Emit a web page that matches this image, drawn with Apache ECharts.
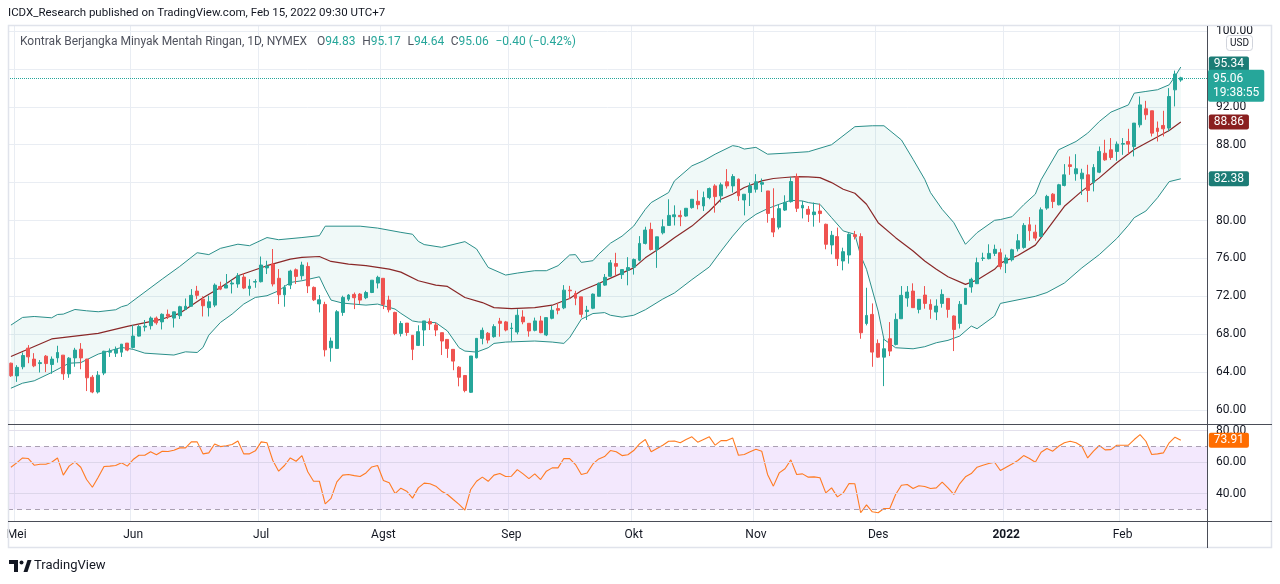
<!DOCTYPE html>
<html>
<head>
<meta charset="utf-8">
<title>Kontrak Berjangka Minyak Mentah Ringan</title>
<script src="https://cdn.jsdelivr.net/npm/echarts@6.0.0/dist/echarts.min.js"></script>
<style>
  html, body { margin: 0; padding: 0; background: #fff; }
  #chart { width: 1280px; height: 584px; }
</style>
</head>
<body>
<div id="chart"></div>
<script>
// trading days shown on the chart
var dates = [
  '2021-04-30',
  '2021-05-03','2021-05-04','2021-05-05','2021-05-06','2021-05-07','2021-05-10','2021-05-11','2021-05-12','2021-05-13','2021-05-14',
  '2021-05-17','2021-05-18','2021-05-19','2021-05-20','2021-05-21','2021-05-24','2021-05-25','2021-05-26','2021-05-27','2021-05-28',
  '2021-06-01','2021-06-02','2021-06-03','2021-06-04','2021-06-07','2021-06-08','2021-06-09','2021-06-10','2021-06-11','2021-06-14',
  '2021-06-15','2021-06-16','2021-06-17','2021-06-18','2021-06-21','2021-06-22','2021-06-23','2021-06-24','2021-06-25','2021-06-28',
  '2021-06-29','2021-06-30',
  '2021-07-01','2021-07-02','2021-07-06','2021-07-07','2021-07-08','2021-07-09','2021-07-12','2021-07-13','2021-07-14','2021-07-15',
  '2021-07-16','2021-07-19','2021-07-20','2021-07-21','2021-07-22','2021-07-23','2021-07-26','2021-07-27','2021-07-28','2021-07-29',
  '2021-07-30',
  '2021-08-02','2021-08-03','2021-08-04','2021-08-05','2021-08-06','2021-08-09','2021-08-10','2021-08-11','2021-08-12','2021-08-13',
  '2021-08-16','2021-08-17','2021-08-18','2021-08-19','2021-08-20','2021-08-23','2021-08-24','2021-08-25','2021-08-26','2021-08-27',
  '2021-08-30','2021-08-31',
  '2021-09-01','2021-09-02','2021-09-03','2021-09-07','2021-09-08','2021-09-09','2021-09-10','2021-09-13','2021-09-14','2021-09-15',
  '2021-09-16','2021-09-17','2021-09-20','2021-09-21','2021-09-22','2021-09-23','2021-09-24','2021-09-27','2021-09-28','2021-09-29',
  '2021-09-30',
  '2021-10-01','2021-10-04','2021-10-05','2021-10-06','2021-10-07','2021-10-08','2021-10-11','2021-10-12','2021-10-13','2021-10-14',
  '2021-10-15','2021-10-18','2021-10-19','2021-10-20','2021-10-21','2021-10-22','2021-10-25','2021-10-26','2021-10-27','2021-10-28',
  '2021-10-29',
  '2021-11-01','2021-11-02','2021-11-03','2021-11-04','2021-11-05','2021-11-08','2021-11-09','2021-11-10','2021-11-11','2021-11-12',
  '2021-11-15','2021-11-16','2021-11-17','2021-11-18','2021-11-19','2021-11-22','2021-11-23','2021-11-24','2021-11-26','2021-11-29',
  '2021-11-30',
  '2021-12-01','2021-12-02','2021-12-03','2021-12-06','2021-12-07','2021-12-08','2021-12-09','2021-12-10','2021-12-13','2021-12-14',
  '2021-12-15','2021-12-16','2021-12-17','2021-12-20','2021-12-21','2021-12-22','2021-12-23','2021-12-27','2021-12-28','2021-12-29',
  '2021-12-30','2021-12-31',
  '2022-01-03','2022-01-04','2022-01-05','2022-01-06','2022-01-07','2022-01-10','2022-01-11','2022-01-12','2022-01-13','2022-01-14',
  '2022-01-18','2022-01-19','2022-01-20','2022-01-21','2022-01-24','2022-01-25','2022-01-26','2022-01-27','2022-01-28','2022-01-31',
  '2022-02-01','2022-02-02','2022-02-03','2022-02-04','2022-02-07','2022-02-08','2022-02-09','2022-02-10','2022-02-11','2022-02-14',
  '2022-02-15'
];
// empty days to the right of the last bar
var padDays = ['2022-02-16','2022-02-17','2022-02-18','2022-02-22'];

var monthStarts = ['2021-05-03','2021-06-01','2021-07-01','2021-08-02','2021-09-01','2021-10-01','2021-11-01','2021-12-01','2022-01-03','2022-02-01'];
var monthNames = ['Mei','Jun','Jul','Agst','Sep','Okt','Nov','Des','2022','Feb'];

var openP = [
  64.94,63.6,64.56,66.53,65.37,64.9,65.68,64.8,65.5,65.79,
  63.82,65.5,66.42,65.37,63.46,61.9,63.9,66.1,66.0,66.1,
  67.06,66.6,67.8,68.75,68.9,69.7,69.3,70.1,69.7,69.95,
  70.6,70.95,72.55,71.7,70.8,71.07,73.04,72.87,73.3,73.3,
  74.03,72.83,73.5,73.54,75.0,75.4,73.9,72.16,73.18,74.8,
  74.17,75.15,72.94,71.2,71.14,66.56,66.5,70.3,71.7,72.2,
  72.23,71.85,72.4,73.4,73.9,71.6,70.3,68.08,69.17,67.88,
  66.82,68.44,69.33,68.98,68.16,67.45,66.4,64.52,63.64,61.87,
  65.51,67.56,68.1,67.74,69.37,69.3,68.6,68.23,69.82,69.15,
  68.41,69.4,67.92,69.68,70.7,70.78,72.65,72.3,71.94,70.4,
  70.74,72.0,73.18,74.11,75.46,74.29,74.75,75.07,75.81,77.58,
  79.06,76.94,78.7,79.48,80.4,80.54,80.47,81.36,82.03,81.53,
  82.42,83.65,82.6,84.08,83.65,84.36,82.17,82.95,83.3,83.83,
  83.12,80.22,79.3,81.1,81.99,84.64,81.32,81.18,80.62,81.0,
  79.6,77.42,78.3,75.73,76.36,78.5,78.3,69.13,70.09,67.03,
  65.58,67.52,66.92,69.63,71.82,72.55,70.62,72.13,71.15,70.34,
  71.25,71.78,69.92,69.14,71.15,72.98,73.33,76.0,75.97,76.53,
  76.6,75.5,75.86,77.02,77.16,79.55,78.77,78.32,81.31,82.78,
  81.66,83.7,85.88,84.93,84.4,84.82,84.0,85.1,87.1,87.46,
  87.29,88.06,88.34,87.8,90.1,91.79,91.58,89.75,90.03,89.75,
  93.79,94.83
];
var highP = [
  65.0,64.73,66.07,66.85,66.0,65.27,65.8,65.65,66.78,65.8,
  65.58,66.56,67.06,65.4,63.68,64.1,66.25,66.5,66.7,66.95,
  67.06,68.96,68.96,69.5,69.87,69.87,70.2,70.6,70.36,71.0,
  71.77,72.76,73.1,72.0,72.06,73.36,73.54,74.35,73.8,74.45,
  74.45,73.8,73.8,76.2,75.75,76.99,74.87,73.18,74.8,74.94,
  75.65,75.58,73.04,72.13,71.42,67.65,70.54,72.06,72.23,72.4,
  72.34,72.58,73.7,74.17,73.9,72.06,70.37,69.38,69.17,67.9,
  68.94,69.4,69.68,69.22,68.16,67.45,66.4,64.63,63.64,65.7,
  67.56,68.7,68.23,69.05,69.72,69.4,69.2,70.64,70.53,69.15,
  69.75,69.93,69.75,70.99,71.27,73.18,73.1,72.58,71.94,70.99,
  72.3,73.46,74.35,75.83,76.59,74.82,76.13,75.99,78.35,79.34,
  79.77,78.28,80.12,82.24,81.6,81.07,81.29,82.24,83.2,83.05,
  83.48,83.83,84.0,85.42,84.89,84.43,82.77,84.0,84.89,84.43,
  83.12,83.4,81.7,82.66,84.6,84.96,82.06,81.53,81.89,81.78,
  79.67,78.9,79.25,77.13,78.65,78.9,78.65,72.9,71.25,67.45,
  67.52,69.28,70.2,73.08,73.08,73.37,71.68,73.08,71.68,71.68,
  72.73,71.78,69.98,71.5,72.84,73.96,76.08,76.6,77.49,77.45,
  77.03,76.4,77.02,78.56,79.72,80.36,79.55,81.38,82.71,82.89,
  83.87,85.95,86.76,87.0,85.46,85.88,85.95,87.81,88.52,88.7,
  88.34,88.7,89.68,90.28,93.09,92.63,91.58,90.45,91.58,93.97,
  95.82,95.17
];
var lowP = [
  63.5,62.97,64.3,64.94,64.52,63.96,64.0,63.82,65.0,63.18,
  63.4,64.56,64.3,62.0,61.77,61.74,63.68,65.6,65.6,65.6,
  66.2,66.5,67.75,68.3,68.5,69.0,68.5,69.6,68.7,69.6,
  70.6,70.95,71.7,69.87,69.87,70.86,72.65,72.87,72.3,72.9,
  72.76,72.06,72.9,73.46,74.35,73.04,71.18,70.9,72.76,73.3,
  73.75,72.34,71.5,70.3,65.65,65.1,66.5,69.94,71.5,70.65,
  71.2,71.7,72.34,72.83,70.65,70.3,67.9,67.76,67.83,65.27,
  66.75,66.75,68.44,67.8,65.8,65.5,64.2,62.5,61.87,61.8,
  65.44,66.93,67.03,67.63,67.74,68.3,67.28,67.98,69.05,67.74,
  68.3,68.1,67.8,69.57,70.1,70.64,71.7,71.06,69.75,69.5,
  70.64,71.97,73.1,74.04,74.18,73.83,73.16,74.29,75.7,77.47,
  76.83,75.0,78.53,79.48,79.48,79.4,80.4,81.25,81.18,81.0,
  82.24,80.83,81.9,83.37,82.95,82.06,80.54,81.53,82.95,83.0,
  79.77,78.25,79.06,81.0,81.89,80.9,80.22,79.84,79.35,79.77,
  76.96,76.43,75.2,74.74,75.45,78.0,67.52,68.93,64.56,65.51,
  62.52,65.69,66.82,69.63,70.9,70.8,70.2,70.69,69.63,69.49,
  70.8,69.74,66.22,68.6,71.15,72.38,73.33,75.73,75.9,76.25,
  74.84,74.45,75.68,76.73,77.02,77.86,77.86,78.25,81.13,81.31,
  81.59,83.6,84.82,84.2,82.7,81.94,83.07,85.0,86.3,86.4,
  86.3,86.93,86.93,86.76,89.82,90.63,88.87,88.34,88.87,89.4,
  92.04,94.64
];
var closeP = [
  63.61,64.5,65.75,65.61,64.66,65.0,64.9,65.37,66.07,63.82,
  65.47,66.32,65.5,63.4,61.9,63.68,66.2,66.2,66.4,66.95,
  66.32,67.8,68.8,68.85,69.7,69.2,70.1,69.9,70.36,70.9,
  70.95,72.1,72.1,71.0,71.42,73.18,72.76,73.18,73.4,74.17,
  72.87,73.08,73.55,75.3,75.2,73.3,72.16,72.94,74.66,74.1,
  75.3,73.1,71.63,71.63,66.35,67.27,70.37,71.88,72.13,71.85,
  71.6,72.4,73.7,74.0,71.14,70.58,68.08,69.13,68.18,66.4,
  68.27,69.4,69.08,68.44,67.28,66.5,65.16,63.46,62.05,65.7,
  67.56,68.41,67.38,68.8,69.15,68.44,68.65,70.0,69.3,68.34,
  69.4,68.16,69.75,70.53,70.53,72.65,72.58,71.8,70.1,70.53,
  72.23,73.36,74.0,75.53,75.17,74.82,75.03,75.88,77.58,78.99,
  76.94,78.28,79.34,80.54,80.6,80.4,81.29,82.24,81.67,82.42,
  83.37,82.52,83.76,83.65,84.64,82.6,82.77,83.65,84.08,84.0,
  80.75,78.78,81.25,81.89,84.11,81.29,81.6,80.65,80.9,80.73,
  77.49,78.44,75.97,76.71,78.54,78.3,68.15,69.98,66.11,65.58,
  66.46,66.22,69.56,72.1,72.45,70.8,71.68,71.25,70.62,70.97,
  72.2,70.62,68.5,71.15,72.84,73.79,75.55,76.04,76.53,76.96,
  75.13,76.05,76.91,77.86,79.48,78.92,78.14,81.13,82.54,82.0,
  83.77,84.82,85.7,85.46,85.0,83.17,85.6,87.29,86.4,86.65,
  88.06,88.12,88.06,90.28,92.2,91.16,89.22,89.4,89.68,93.09,
  95.46,95.06
];

// Bollinger bands (20, 2): [bar index, price]
var upperBand = [
  [0,68.96],[2,69.77],[4,69.87],[7,69.73],[8,70.08],[9,70.12],[11,70.61],[13,70.47],[15,70.37],[18,70.58],
  [19,70.9],[20,71.07],[22,71.99],[26,73.82],[29,75.15],[32,76.6],[34,76.4],[36,77.06],[39,77.5],[41,77.34],
  [44,78.2],[46,77.97],[50,78.2],[53,78.4],[54,79.4],[60,79.4],[63,79.2],[67,78.75],[69,78.55],[70,77.8],
  [71,77.46],[74,77.17],[78,77.77],[80,77.0],[82,75.05],[85,74.24],[87,74.45],[90,74.7],[92,74.7],[94,75.23],
  [96,76.36],[97,76.4],[98,75.58],[100,75.76],[101,76.45],[103,77.6],[105,78.35],[107,79.41],[109,81.18],[110,81.89],
  [113,82.95],[114,84.18],[117,85.77],[119,86.3],[121,87.0],[124,87.9],[125,87.8],[126,87.54],[128,87.72],[130,87.0],
  [133,87.1],[137,87.26],[141,88.0],[145,89.9],[148,90.0],[150,90.0],[153,88.5],[155,86.46],[157,84.35],[158,82.94],
  [160,81.18],[162,79.77],[164,77.49],[166,78.72],[169,80.02],[170,80.1],[172,80.4],[174,81.66],[176,82.78],[177,84.3],
  [180,87.46],[183,88.34],[185,89.22],[187,90.45],[189,91.44],[192,92.2],[193,93.44],[195,93.62],[197,93.8],[199,94.32],
  [200,95.2],[201,96.2]
];
var basisLine = [
  [0,65.65],[7,67.5],[15,68.08],[20,68.82],[26,69.6],[29,70.2],[33,71.85],[36,72.94],[39,74.17],[44,75.23],
  [48,75.93],[50,76.1],[53,76.2],[55,75.68],[58,75.4],[61,75.23],[65,74.87],[67,74.55],[70,73.64],[73,73.18],
  [75,73.04],[78,71.87],[81,71.34],[83,70.81],[86,70.7],[90,70.81],[93,71.06],[96,71.77],[98,72.58],[101,73.35],
  [104,74.18],[107,75.0],[109,76.06],[112,77.29],[114,78.18],[117,79.41],[120,81.0],[122,82.24],[124,82.77],[126,83.48],
  [129,84.18],[131,84.43],[133,84.54],[135,84.64],[137,84.6],[139,84.53],[141,84.0],[143,83.3],[145,82.87],[147,81.71],
  [149,79.77],[152,78.19],[155,76.78],[157,75.73],[159,74.85],[161,74.07],[164,73.26],[166,73.72],[169,74.85],[170,75.5],
  [173,76.3],[176,77.4],[178,79.0],[181,81.5],[184,83.1],[187,84.5],[190,86.1],[193,87.5],[196,88.5],[199,89.5],
  [201,90.4]
];
var lowerBand = [
  [0,62.3],[2,62.83],[4,63.08],[7,63.96],[10,64.94],[12,65.0],[15,65.9],[17,66.25],[19,66.6],[21,66.4],
  [23,66.0],[28,65.8],[30,66.14],[32,66.07],[33,66.6],[34,67.9],[36,69.24],[38,70.12],[40,71.18],[42,71.88],
  [44,72.06],[46,72.58],[48,73.46],[50,73.64],[53,74.06],[54,72.76],[55,71.6],[57,71.28],[61,71.07],[63,71.18],
  [66,70.65],[67,70.2],[69,69.4],[70,69.29],[73,69.22],[75,68.34],[77,66.57],[78,66.22],[80,66.11],[82,66.57],
  [83,67.03],[85,67.17],[90,67.28],[93,67.17],[95,67.03],[96,67.63],[98,69.58],[100,70.18],[102,70.28],[103,70.0],
  [105,69.8],[107,70.0],[109,70.58],[112,71.71],[114,72.35],[117,73.76],[120,75.1],[122,76.76],[124,78.35],[126,79.77],
  [128,80.65],[130,81.25],[132,81.71],[134,82.13],[136,82.06],[137,81.89],[139,81.71],[141,80.3],[143,78.9],[145,78.54],
  [146,76.3],[147,74.85],[149,70.44],[150,67.45],[152,66.57],[155,66.46],[157,66.68],[159,67.1],[161,67.35],[163,67.8],
  [165,68.86],[166,68.58],[169,69.92],[170,71.25],[172,71.5],[176,72.0],[178,72.4],[181,73.4],[184,75.0],[187,76.4],
  [190,78.1],[192,79.5],[193,80.3],[195,81.0],[197,82.4],[199,84.1],[201,84.4]
];
var bandTags = ['95.34', '88.86', '82.38'];

// RSI (14), one value per bar
var rsiValues = [
  56.8,59.6,62.7,62.3,58.1,58.7,58.7,60.0,62.7,51.8,
  57.5,60.2,56.8,49.0,44.1,50.5,57.3,57.5,57.9,59.6,
  57.5,61.7,64.4,64.4,66.6,64.7,67.0,66.8,67.6,69.1,
  69.1,72.9,72.9,65.3,65.9,71.6,69.9,70.4,71.2,73.5,
  65.3,65.3,67.2,72.9,72.3,61.1,54.3,57.9,62.7,60.6,
  64.2,53.9,47.9,47.9,33.6,37.0,47.5,51.8,52.2,51.5,
  50.9,53.2,57.0,57.9,48.4,46.9,40.1,43.5,41.6,37.2,
  43.7,46.7,46.3,44.8,41.6,39.5,36.3,33.2,29.6,42.7,
  47.9,50.5,47.9,51.8,52.8,50.9,51.1,55.3,52.6,49.6,
  52.6,49.0,54.3,56.4,56.4,62.3,62.3,58.5,52.2,53.2,
  58.9,62.1,63.6,67.4,66.6,64.2,64.7,67.4,71.6,74.4,
  66.6,68.7,70.8,73.3,73.5,72.3,74.4,76.1,72.7,74.4,
  76.1,70.8,73.7,73.7,75.4,64.4,64.9,66.6,68.2,67.0,
  52.2,44.8,53.2,55.8,61.5,52.2,52.6,50.5,50.7,50.1,
  40.5,43.7,38.0,40.5,46.5,46.3,27.9,32.9,28.5,27.9,
  30.6,30.6,39.5,45.4,45.8,43.3,45.0,44.6,43.3,43.7,
  47.3,43.7,39.5,46.3,50.7,52.8,56.8,58.1,59.2,60.0,
  54.7,56.8,58.9,61.1,64.2,62.3,60.0,66.3,68.7,67.0,
  70.1,72.3,73.3,72.3,70.1,62.7,67.0,70.6,67.8,68.0,
  70.8,70.8,70.8,74.4,77.5,73.3,64.9,65.3,65.9,72.3,
  75.9,73.91
];

var FONT = 'Roboto, "Noto Sans", sans-serif';
var UP = '#26a69a', DOWN = '#ef5350';
var GRID_C = '#e9edf3';
var TEXT_C = '#131722';

var categories = dates.concat(padDays);
var candles = dates.map(function (d, i) {
  return [openP[i], closeP[i], lowP[i], highP[i]];
});
var last = dates.length - 1;
var chg = closeP[last] - closeP[last - 1];
var chgPct = chg / closeP[last - 1] * 100;
function signed(v) { return (v < 0 ? '\u2212' : '+') + Math.abs(v).toFixed(2); }

function isMonthStart(i, v) { return monthStarts.indexOf(v) >= 0; }

var chart = echarts.init(document.getElementById('chart'));

var option = {
  animation: false,
  backgroundColor: '#ffffff',
  textStyle: { fontFamily: FONT },
  grid: [
    { left: 8, right: 73, top: 26, height: 398 },
    { left: 8, right: 73, top: 31, height: 379 },
    { left: 8, right: 73, top: 424, height: 97 },
    { left: 8, right: 73, top: 430.7, height: 94.5 }
  ],
  xAxis: [
    {
      type: 'category', gridIndex: 0, data: categories,
      axisLine: { show: false }, axisTick: { show: false }, axisLabel: { show: false },
      splitLine: { show: true, interval: isMonthStart, lineStyle: { color: GRID_C, width: 1 } }
    },
    { type: 'category', gridIndex: 1, data: categories, show: false },
    {
      type: 'category', gridIndex: 2, data: categories,
      axisLine: { show: false }, axisTick: { show: false },
      axisLabel: {
        show: true, interval: isMonthStart, margin: 8, color: TEXT_C, fontSize: 12, fontFamily: FONT,
        formatter: function (v) {
          var k = monthStarts.indexOf(v);
          if (k < 0) return '';
          return monthNames[k] === '2022' ? '{b|2022}' : monthNames[k];
        },
        rich: { b: { fontWeight: 'bold', color: TEXT_C, fontSize: 12, fontFamily: FONT } }
      },
      splitLine: { show: true, interval: isMonthStart, lineStyle: { color: GRID_C, width: 1 } }
    },
    { type: 'category', gridIndex: 3, data: categories, show: false }
  ],
  yAxis: [
    { type: 'value', gridIndex: 0, show: false, min: 0, max: 1, splitLine: { show: false } },
    {
      type: 'value', gridIndex: 1, position: 'right', min: 60, max: 100, interval: 4,
      axisLine: { show: false }, axisTick: { show: false },
      axisLabel: { margin: 9, color: TEXT_C, fontSize: 12, fontFamily: FONT, formatter: function (v) { return v.toFixed(2); } },
      splitLine: { show: true, lineStyle: { color: GRID_C, width: 1 } }
    },
    { type: 'value', gridIndex: 2, show: false, min: 0, max: 1, splitLine: { show: false } },
    {
      type: 'value', gridIndex: 3, position: 'right', min: 20, max: 80, interval: 20,
      axisLine: { show: false }, axisTick: { show: false },
      axisLabel: { margin: 9, color: TEXT_C, fontSize: 12, fontFamily: FONT, formatter: function (v) { return v === 20 ? '' : v.toFixed(2); } },
      splitLine: { show: false }
    }
  ],
  series: [
    {
      name: 'BB fill', type: 'custom', xAxisIndex: 1, yAxisIndex: 1, z: 1, silent: true,
      data: [[0, upperBand[0][1]]],
      renderItem: function (params, api) {
        var pts = upperBand.map(function (p) { return api.coord(p); })
          .concat(lowerBand.slice().reverse().map(function (p) { return api.coord(p); }));
        return { type: 'polygon', shape: { points: pts }, style: { fill: 'rgba(38,166,154,0.07)' } };
      }
    },
    {
      name: 'Upper', type: 'line', xAxisIndex: 1, yAxisIndex: 1, z: 2, data: upperBand,
      symbol: 'none', lineStyle: { color: '#2a8f8a', width: 1 },
      endLabel: { show: true, formatter: function () { return bandTags[0]; }, distance: 28, offset: [0, -3],
        color: '#fff', backgroundColor: '#1c7c76', padding: [2, 5, 1, 5], borderRadius: 2, fontSize: 12, fontFamily: FONT }
    },
    {
      name: 'Basis', type: 'line', xAxisIndex: 1, yAxisIndex: 1, z: 2, data: basisLine,
      symbol: 'none', lineStyle: { color: '#8a2828', width: 1.2 },
      endLabel: { show: true, formatter: function () { return bandTags[1]; }, distance: 28,
        color: '#fff', backgroundColor: '#8a1f1f', padding: [2, 5, 1, 5], borderRadius: 2, fontSize: 12, fontFamily: FONT }
    },
    {
      name: 'Lower', type: 'line', xAxisIndex: 1, yAxisIndex: 1, z: 2, data: lowerBand,
      symbol: 'none', lineStyle: { color: '#2a8f8a', width: 1 },
      endLabel: { show: true, formatter: function () { return bandTags[2]; }, distance: 28,
        color: '#fff', backgroundColor: '#1c7c76', padding: [2, 5, 1, 5], borderRadius: 2, fontSize: 12, fontFamily: FONT }
    },
    {
      name: 'CL1!', type: 'candlestick', xAxisIndex: 1, yAxisIndex: 1, z: 3, data: candles,
      barWidth: 3.4,
      itemStyle: { color: UP, color0: DOWN, borderColor: UP, borderColor0: DOWN, borderWidth: 1 },
      markLine: {
        silent: true, symbol: 'none', animation: false,
        lineStyle: { type: 'dotted', color: UP, width: 1 },
        label: {
          show: true, position: 'end', distance: 1, offset: [0, 8],
          formatter: '{p|' + closeP[last].toFixed(2) + '}\n{t|19:38:55}',
          backgroundColor: UP, padding: [2, 5, 2, 5], borderRadius: 2,
          rich: {
            p: { color: '#fff', fontSize: 12, fontFamily: FONT, lineHeight: 14 },
            t: { color: '#fff', fontSize: 12, fontFamily: FONT, lineHeight: 14 }
          }
        },
        data: [{ yAxis: closeP[last] }]
      }
    },
    {
      name: 'RSI', type: 'line', xAxisIndex: 3, yAxisIndex: 3, z: 3, data: rsiValues,
      symbol: 'none', lineStyle: { color: '#ff7b22', width: 1.1 },
      endLabel: { show: true, formatter: function () { return rsiValues[last].toFixed(2); }, distance: 28,
        color: '#fff', backgroundColor: '#ff6d00', padding: [2, 5, 1, 5], borderRadius: 2, fontSize: 12, fontFamily: FONT },
      markArea: {
        silent: true,
        itemStyle: { color: 'rgba(150,50,235,0.11)' },
        data: [[{ yAxis: 30 }, { yAxis: 70 }]]
      },
      markLine: {
        silent: true, symbol: 'none', label: { show: false },
        data: [
          { yAxis: 80, lineStyle: { color: '#e3e0ec', type: 'solid', width: 1 } },
          { yAxis: 60, lineStyle: { color: '#ddd6ea', type: 'solid', width: 1 } },
          { yAxis: 40, lineStyle: { color: '#ddd6ea', type: 'solid', width: 1 } },
          { yAxis: 70, lineStyle: { color: '#aaa0b2', type: [5, 4], width: 1 } },
          { yAxis: 30, lineStyle: { color: '#aaa0b2', type: [5, 4], width: 1 } }
        ]
      }
    }
  ],
  graphic: [
    { type: 'rect', z: 50, shape: { x: 8.5, y: 25.5, width: 1263, height: 522 }, style: { fill: 'none', stroke: '#e0e3eb', lineWidth: 1.5 }, silent: true },
    { type: 'line', z: 60, shape: { x1: 8, y1: 424.5, x2: 1272, y2: 424.5 }, style: { stroke: '#4a4d57', lineWidth: 1 }, silent: true },
    { type: 'line', z: 60, shape: { x1: 8, y1: 521.5, x2: 1272, y2: 521.5 }, style: { stroke: '#4a4d57', lineWidth: 1 }, silent: true },
    { type: 'line', z: 60, shape: { x1: 1207.5, y1: 26, x2: 1207.5, y2: 548 }, style: { stroke: '#4a4d57', lineWidth: 1 }, silent: true },
    {
      type: 'text', left: 8, top: 7, z: 60, silent: true,
      style: { text: 'ICDX_Research published on TradingView.com, Feb 15, 2022 09:30 UTC+7', fill: TEXT_C, font: '11.5px ' + FONT }
    },
    {
      type: 'text', left: 20, top: 36, z: 60, silent: true,
      style: {
        text: '{n|Kontrak Berjangka Minyak Mentah Ringan, 1D, NYMEX}   {k|O}{v|' + openP[last].toFixed(2) + '}  {k|H}{v|' + highP[last].toFixed(2) +
          '}  {k|L}{v|' + lowP[last].toFixed(2) + '}  {k|C}{v|' + closeP[last].toFixed(2) + '}  {v|' + signed(chg) + ' (' + signed(chgPct) + '%)}',
        rich: {
          n: { fill: '#50535e', font: '12px ' + FONT },
          k: { fill: '#50535e', font: '12px ' + FONT },
          v: { fill: UP, font: '12px ' + FONT }
        }
      }
    },
    { type: 'rect', z: 60, shape: { x: 1226.5, y: 35.5, width: 26, height: 15, r: 3 }, style: { fill: '#fff', stroke: '#d1d4dc', lineWidth: 1 }, silent: true },
    { type: 'text', z: 61, left: 1230, top: 38, silent: true, style: { text: 'USD', fill: TEXT_C, font: '10px ' + FONT } },
    { type: 'polygon', z: 60, shape: { points: [[9, 560], [18, 560], [18, 572], [14, 572], [14, 564], [9, 564]] }, style: { fill: TEXT_C }, silent: true },
    { type: 'circle', z: 60, shape: { cx: 21.5, cy: 562.5, r: 2 }, style: { fill: TEXT_C }, silent: true },
    { type: 'polygon', z: 60, shape: { points: [[23.5, 572], [27.5, 560], [31.5, 560], [27.5, 572]] }, style: { fill: TEXT_C }, silent: true },
    { type: 'text', z: 60, left: 34, top: 559, silent: true, style: { text: 'TradingView', fill: TEXT_C, font: '13px ' + FONT } }
  ]
};

chart.setOption(option);
</script>
</body>
</html>
